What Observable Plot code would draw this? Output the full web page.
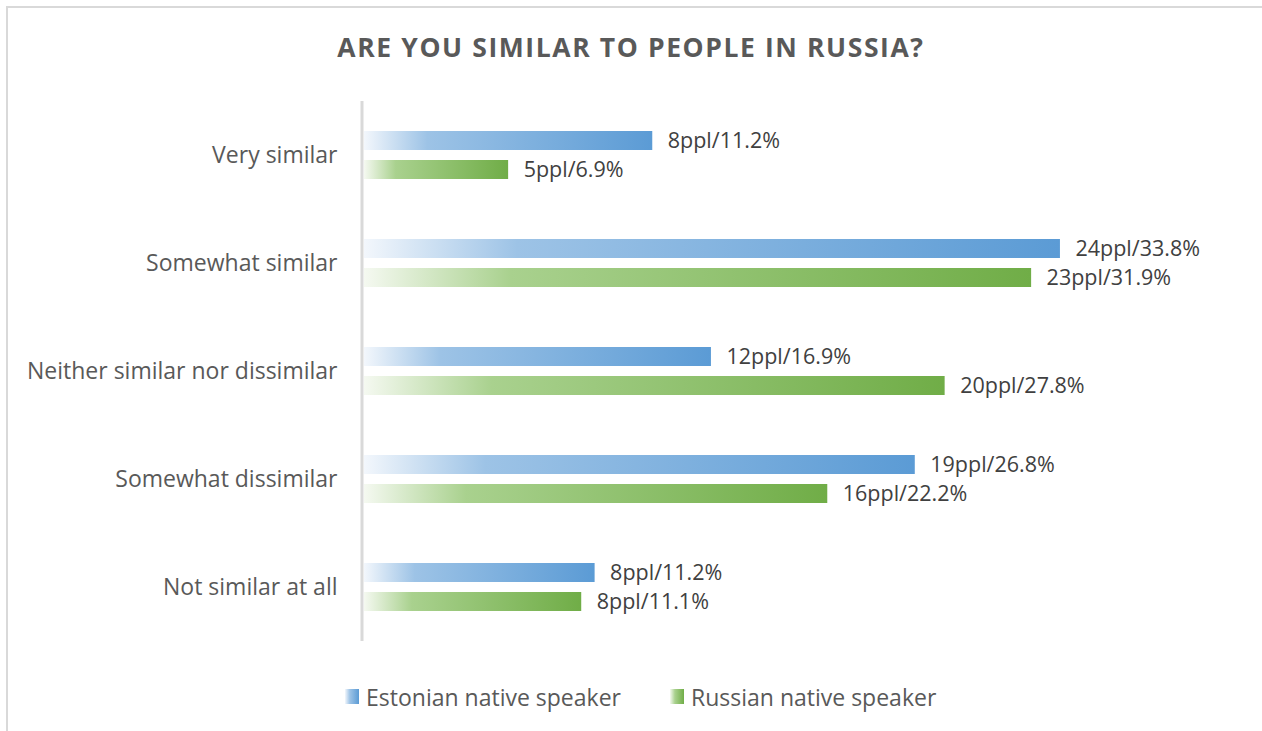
<!DOCTYPE html>
<html>
<head>
<meta charset="utf-8">
<script src="https://cdn.jsdelivr.net/npm/d3@7"></script>
<script src="https://cdn.jsdelivr.net/npm/@observablehq/plot@0.6"></script>
<style>
  html, body { margin: 0; padding: 0; background: #fff; width: 1262px; height: 731px; overflow: hidden; }
  body { position: relative; font-family: "Open Sans", sans-serif; }
  .frame { position: absolute; left: 6px; top: 6px; width: 1300px; height: 800px; border: 2px solid #d9d9d9; box-sizing: border-box; pointer-events: none; }
  .title { position: absolute; left: 0; top: 32px; width: 1262px; text-align: center; font-weight: 700; font-size: 26.5px; line-height: 30px; color: #595959; letter-spacing: 1.6px; }
  #chart { position: absolute; left: 0; top: 90px; }
  .legend { position: absolute; top: 680px; left: 0; width: 1262px; height: 34px; font-size: 23px; color: #595959; }
  .legend .sw { position: absolute; top: 9px; width: 14px; height: 15px; }
  .legend .lb { position: absolute; top: 0; line-height: 34px; }
</style>
</head>
<body>
<div class="frame"></div>
<div class="title">ARE YOU SIMILAR TO PEOPLE IN RUSSIA?</div>
<div id="chart"></div>
<div class="legend" id="legend"></div>
<script>
const categories = ["Very similar", "Somewhat similar", "Neither similar nor dissimilar", "Somewhat dissimilar", "Not similar at all"];
const seriesNames = ["Estonian native speaker", "Russian native speaker"];
// bar lengths as drawn in the picture
const estonianValues = [14.0, 33.8, 16.85, 26.75, 11.2];
const russianValues = [7.0, 32.4, 28.2, 22.5, 10.55];
// data labels as printed
const estonianLabels = ["8ppl/11.2%", "24ppl/33.8%", "12ppl/16.9%", "19ppl/26.8%", "8ppl/11.2%"];
const russianLabels = ["5ppl/6.9%", "23ppl/31.9%", "20ppl/27.8%", "16ppl/22.2%", "8ppl/11.1%"];
const colors = {E: "#5b9bd5", R: "#70ad47"};
const midColors = {E: "#9dc3e6", R: "#a9d18e"};
const startColors = {E: "#f3f7fc", R: "#f5f9f1"};

const est = categories.map((c, i) => ({category: c, series: "E", value: estonianValues[i], label: estonianLabels[i]}));
const rus = categories.map((c, i) => ({category: c, series: "R", value: russianValues[i], label: russianLabels[i]}));
const all = est.concat(rus);

const chart = Plot.plot({
  width: 1262,
  height: 570,
  marginLeft: 364,
  marginRight: 74.4,
  marginTop: 9,
  marginBottom: 18,
  style: {fontFamily: "Open Sans", color: "#595959", background: "transparent"},
  x: {domain: [0, 40], axis: null},
  y: {domain: ["E", "R"], axis: null, paddingInner: 0.35, paddingOuter: 0.985},
  fy: {domain: categories, padding: 0, label: null},
  marks: [
    Plot.axisFy({anchor: "left", tickSize: 0, tickPadding: 27, fontSize: 23, label: null, fill: "#595959"}),
    Plot.barX(est, {x: "value", y: "series", fy: "category", fill: "url(#gradE)"}),
    Plot.barX(rus, {x: "value", y: "series", fy: "category", fill: "url(#gradR)"}),
    Plot.text(all, {x: "value", y: "series", fy: "category", text: "label", textAnchor: "start", dx: 15, fontSize: 21.5, fill: "#404040"}),
    Plot.ruleX([0], {stroke: "#d9d9d9", strokeWidth: 3, dx: -2.5})
  ]
});

const defs = d3.select(chart).insert("defs", ":first-child");
for (const k of ["E", "R"]) {
  const g = defs.append("linearGradient").attr("id", "grad" + k).attr("x1", "0").attr("x2", "1").attr("y1", "0").attr("y2", "0");
  g.append("stop").attr("offset", "0").attr("stop-color", startColors[k]);
  g.append("stop").attr("offset", "0.22").attr("stop-color", midColors[k]);
  g.append("stop").attr("offset", "1").attr("stop-color", colors[k]);
}
document.getElementById("chart").appendChild(chart);

const legend = document.getElementById("legend");
const legendPos = [[345, 366], [670, 691]];
["E", "R"].forEach((k, i) => {
  const sw = document.createElement("div");
  sw.className = "sw";
  sw.style.left = legendPos[i][0] + "px";
  sw.style.background = `linear-gradient(to right, ${startColors[k]}, ${midColors[k]} 35%, ${colors[k]})`;
  legend.appendChild(sw);
  const lb = document.createElement("div");
  lb.className = "lb";
  lb.style.left = legendPos[i][1] + "px";
  lb.textContent = seriesNames[i];
  legend.appendChild(lb);
});
</script>
</body>
</html>
